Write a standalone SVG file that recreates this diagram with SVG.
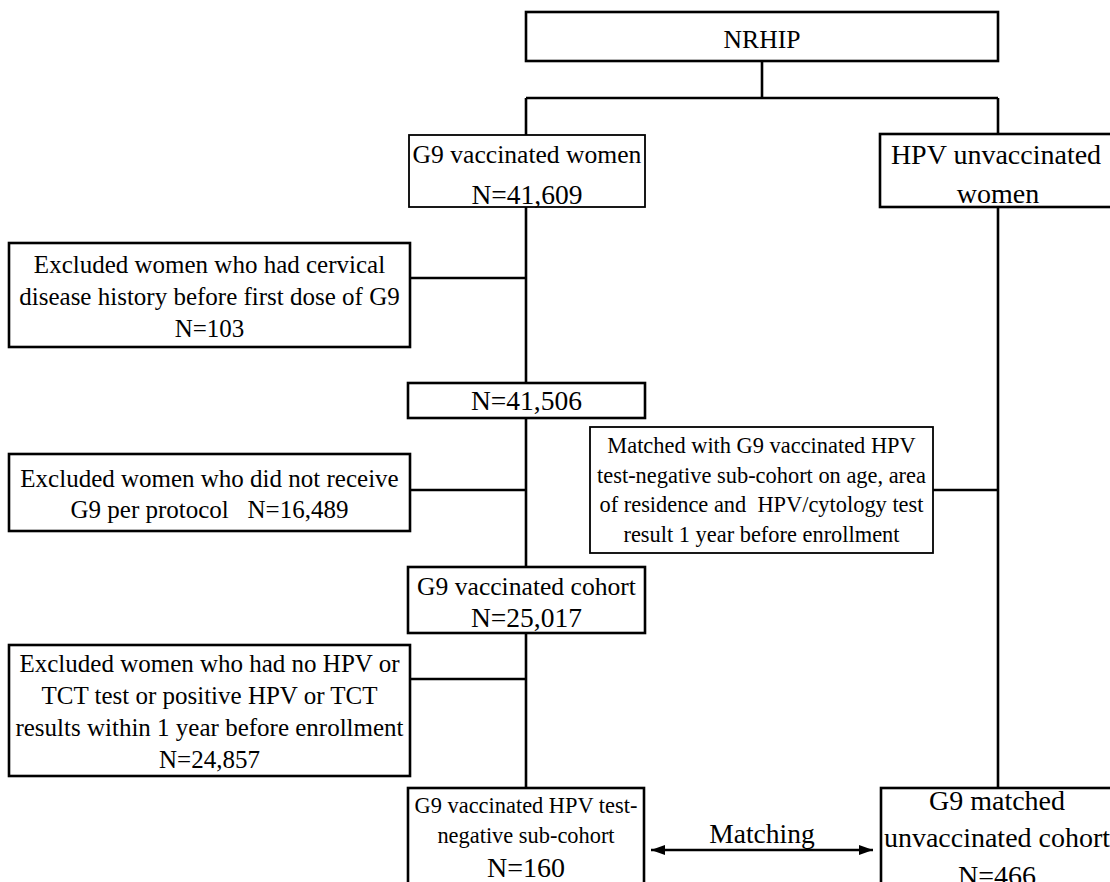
<svg xmlns="http://www.w3.org/2000/svg" width="1110" height="882" viewBox="0 0 1110 882">
<defs>
<style>
.box{fill:#fff;stroke:#000;stroke-width:2.6}
.thin{stroke-width:1.8}
.ln{stroke:#000;stroke-width:2.6;fill:none}
text{font-family:"Liberation Serif","Times New Roman",serif;fill:#000;text-anchor:middle;white-space:pre}
.s22{font-size:22.4px}
.s25{font-size:25px}
.s26{font-size:25.6px}
.s27{font-size:27.5px}
.s28{font-size:28px}
</style>
<marker id="ah" viewBox="0 0 14 10" refX="14" refY="5" markerWidth="14" markerHeight="10" markerUnits="userSpaceOnUse" orient="auto-start-reverse">
<path d="M0,0 L14,5 L0,10 z" fill="#000"/>
</marker>
</defs>
<rect x="0" y="0" width="1110" height="882" fill="#fff"/>

<g id="connectors">
<path class="ln" d="M762,61 V98"/>
<path class="ln" d="M526,98 H998"/>
<path class="ln" d="M526,98 V135"/>
<path class="ln" d="M998,98 V134"/>
<path class="ln" d="M526,207 V788"/>
<path class="ln" d="M998,207 V788"/>
<path class="ln" d="M410,278 H526"/>
<path class="ln" d="M410,490 H526"/>
<path class="ln" d="M410,679 H526"/>
<path class="ln" d="M933,490 H998"/>
<path class="ln" d="M651,850 H873" marker-start="url(#ah)" marker-end="url(#ah)"/>
<text class="s27" x="762" y="843">Matching</text>
</g>

<g id="nrhip">
<rect class="box" x="526" y="12" width="472" height="49"/>
<text class="s26" x="762" y="48">NRHIP</text>
</g>

<g id="g9-women">
<rect class="box thin" x="409" y="135" width="236" height="72"/>
<text class="s26" x="527" y="163">G9 vaccinated women</text>
<text class="s27" x="527" y="204">N=41,609</text>
</g>

<g id="hpv-unvaccinated">
<rect class="box" x="880" y="134" width="236" height="73"/>
<text class="s28" x="996" y="164">HPV unvaccinated</text>
<text class="s28" x="998" y="203">women</text>
</g>

<g id="excluded-1">
<rect class="box" x="9" y="243" width="401" height="104"/>
<text class="s25" x="209.5" y="273">Excluded women who had cervical</text>
<text class="s25" x="209.5" y="305">disease history before first dose of G9</text>
<text class="s25" x="209.5" y="337">N=103</text>
</g>

<g id="n41506">
<rect class="box" x="408" y="383" width="237" height="35"/>
<text class="s27" x="526.5" y="410">N=41,506</text>
</g>

<g id="excluded-2">
<rect class="box" x="9" y="454" width="401" height="77"/>
<text class="s25" x="209.5" y="487">Excluded women who did not receive</text>
<text class="s25" x="209.5" y="518">G9 per protocol   N=16,489</text>
</g>

<g id="matched-criteria">
<rect class="box thin" x="590" y="427" width="343" height="126"/>
<text class="s22" x="761.5" y="453">Matched with G9 vaccinated HPV</text>
<text class="s22" x="761.5" y="483">test-negative sub-cohort on age, area</text>
<text class="s22" x="761.5" y="512">of residence and  HPV/cytology test</text>
<text class="s22" x="761.5" y="542">result 1 year before enrollment</text>
</g>

<g id="g9-cohort">
<rect class="box" x="408" y="567" width="237" height="66"/>
<text class="s26" x="526.5" y="595">G9 vaccinated cohort</text>
<text class="s27" x="526.5" y="627">N=25,017</text>
</g>

<g id="excluded-3">
<rect class="box" x="9" y="645" width="401" height="131"/>
<text class="s25" x="209.5" y="672">Excluded women who had no HPV or</text>
<text class="s25" x="209.5" y="704">TCT test or positive HPV or TCT</text>
<text class="s25" x="209.5" y="736">results within 1 year before enrollment</text>
<text class="s25" x="209.5" y="768">N=24,857</text>
</g>

<g id="g9-subcohort">
<rect class="box" x="408" y="788" width="236" height="120"/>
<text class="s22" x="526" y="813">G9 vaccinated HPV test-</text>
<text class="s22" x="526" y="843">negative sub-cohort</text>
<text class="s28" x="526" y="877">N=160</text>
</g>

<g id="g9-matched-unvaccinated">
<rect class="box" x="881" y="788" width="236" height="120"/>
<text class="s28" x="997" y="810">G9 matched</text>
<text class="s28" x="997" y="847">unvaccinated cohort</text>
<text class="s28" x="997" y="885">N=466</text>
</g>
</svg>
